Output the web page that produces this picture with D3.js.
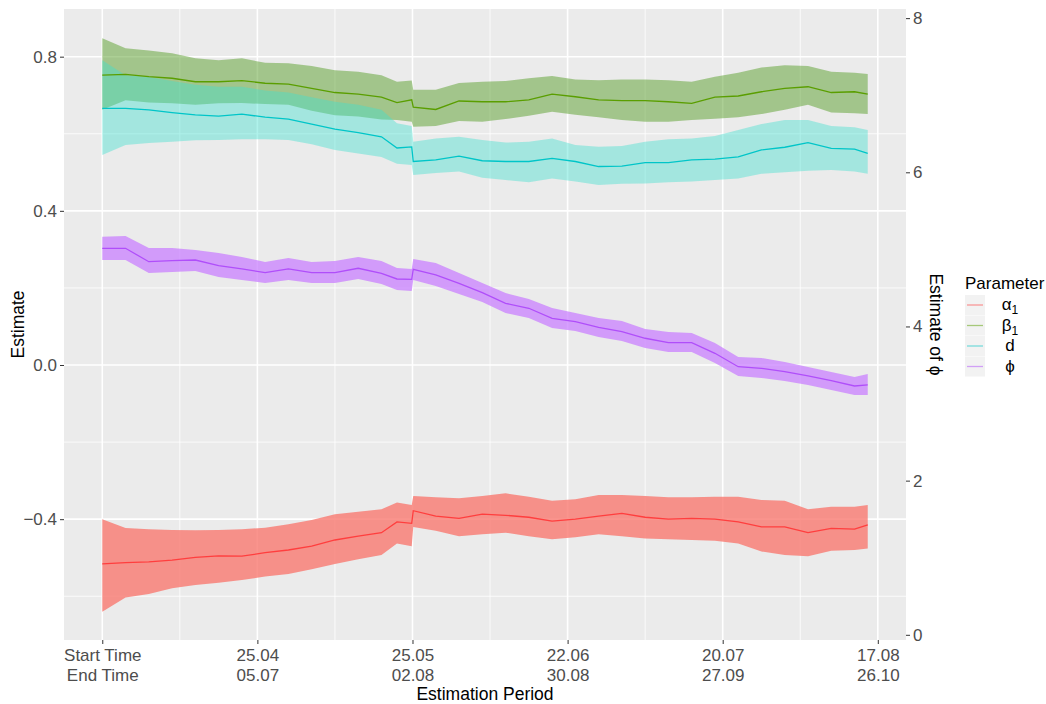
<!DOCTYPE html>
<html>
<head>
<meta charset="utf-8">
<script src="https://cdn.jsdelivr.net/npm/d3@7"></script>
<style>
  body { margin: 0; background: #fff; }
  text { font-family: 'Liberation Sans', Arial, sans-serif; }
</style>
</head>
<body>
<div id="chart-container"></div>
<script>
// estimation window index (trading days from start)
const tIdx = [0, 3, 6, 9, 12, 15, 18, 21, 24, 27, 30, 33, 36, 38, 39.9, 40.1, 43, 46, 49, 52, 55, 58,
  61, 64, 67, 70, 73, 76, 79, 82, 85, 88, 91, 94, 97, 98.7]

// alpha_1 (left axis)
const alphaMid = [-0.516, -0.513, -0.511, -0.506, -0.499, -0.495, -0.496, -0.487, -0.480, -0.470, -0.454, -0.444,
  -0.435, -0.407, -0.411, -0.378, -0.392, -0.398, -0.387, -0.390, -0.395, -0.405, -0.400, -0.392, -0.385, -0.395,
  -0.400, -0.398, -0.400, -0.407, -0.420, -0.420, -0.435, -0.424, -0.426, -0.415]
const alphaHi = [-0.400, -0.423, -0.426, -0.428, -0.429, -0.428, -0.426, -0.422, -0.413, -0.402, -0.387, -0.381,
  -0.374, -0.357, -0.363, -0.340, -0.343, -0.346, -0.340, -0.333, -0.342, -0.352, -0.348, -0.337, -0.337, -0.340,
  -0.343, -0.343, -0.342, -0.342, -0.350, -0.352, -0.374, -0.368, -0.368, -0.363]
const alphaLo = [-0.640, -0.603, -0.594, -0.579, -0.571, -0.565, -0.558, -0.549, -0.542, -0.530, -0.516, -0.504,
  -0.493, -0.463, -0.470, -0.420, -0.430, -0.444, -0.439, -0.435, -0.444, -0.452, -0.447, -0.439, -0.444, -0.450,
  -0.452, -0.454, -0.456, -0.463, -0.484, -0.493, -0.496, -0.482, -0.480, -0.476]

// beta_1 (left axis)
const betaMid = [0.752, 0.754, 0.748, 0.744, 0.735, 0.735, 0.738, 0.731, 0.729, 0.718, 0.707, 0.703, 0.695, 0.681,
  0.688, 0.669, 0.663, 0.685, 0.683, 0.683, 0.688, 0.703, 0.696, 0.688, 0.686, 0.686, 0.683, 0.679, 0.695, 0.698,
  0.709, 0.718, 0.722, 0.707, 0.709, 0.703]
const betaHi = [0.848, 0.822, 0.816, 0.809, 0.796, 0.791, 0.796, 0.784, 0.783, 0.776, 0.765, 0.761, 0.752, 0.735,
  0.738, 0.714, 0.714, 0.732, 0.735, 0.737, 0.744, 0.750, 0.741, 0.739, 0.741, 0.741, 0.739, 0.735, 0.748, 0.758,
  0.772, 0.778, 0.776, 0.761, 0.758, 0.755]
const betaLo = [0.662, 0.687, 0.681, 0.679, 0.675, 0.679, 0.680, 0.677, 0.675, 0.660, 0.648, 0.645, 0.637, 0.636,
  0.631, 0.618, 0.620, 0.633, 0.631, 0.638, 0.647, 0.657, 0.649, 0.643, 0.636, 0.631, 0.631, 0.636, 0.639, 0.643,
  0.651, 0.662, 0.675, 0.655, 0.653, 0.651]

// d (left axis)
const dMid = [0.666, 0.666, 0.662, 0.655, 0.649, 0.646, 0.651, 0.643, 0.638, 0.625, 0.612, 0.603, 0.592, 0.563,
  0.566, 0.528, 0.532, 0.542, 0.530, 0.528, 0.528, 0.536, 0.528, 0.515, 0.516, 0.525, 0.525, 0.532, 0.534, 0.540,
  0.558, 0.565, 0.577, 0.562, 0.560, 0.549]
const dHi = [0.791, 0.752, 0.747, 0.737, 0.727, 0.722, 0.722, 0.712, 0.707, 0.695, 0.683, 0.675, 0.662, 0.627,
  0.620, 0.579, 0.588, 0.592, 0.584, 0.577, 0.579, 0.588, 0.571, 0.566, 0.568, 0.579, 0.586, 0.588, 0.594, 0.610,
  0.625, 0.636, 0.636, 0.620, 0.617, 0.610]
const dLo = [0.545, 0.571, 0.576, 0.579, 0.583, 0.584, 0.586, 0.586, 0.584, 0.573, 0.558, 0.549, 0.540, 0.522,
  0.519, 0.493, 0.498, 0.502, 0.486, 0.480, 0.474, 0.484, 0.476, 0.467, 0.470, 0.471, 0.474, 0.476, 0.480, 0.484,
  0.496, 0.500, 0.504, 0.506, 0.502, 0.496]

// phi (right axis)
const phiMid = [5.014, 5.014, 4.840, 4.853, 4.862, 4.789, 4.746, 4.698, 4.746, 4.698, 4.698, 4.755, 4.690, 4.616,
  4.612, 4.742, 4.668, 4.560, 4.438, 4.301, 4.236, 4.106, 4.062, 3.989, 3.932, 3.847, 3.790, 3.790, 3.652, 3.478,
  3.457, 3.413, 3.358, 3.297, 3.228, 3.241]
const phiHi = [5.165, 5.174, 5.018, 5.018, 4.992, 4.953, 4.901, 4.837, 4.888, 4.837, 4.850, 4.901, 4.850, 4.759,
  4.746, 4.875, 4.824, 4.694, 4.564, 4.434, 4.357, 4.240, 4.175, 4.110, 4.071, 3.967, 3.928, 3.915, 3.786, 3.604,
  3.591, 3.539, 3.474, 3.409, 3.345, 3.384]
const phiLo = [4.862, 4.862, 4.694, 4.707, 4.720, 4.642, 4.603, 4.564, 4.603, 4.564, 4.564, 4.616, 4.551, 4.473,
  4.460, 4.603, 4.525, 4.421, 4.318, 4.175, 4.110, 3.980, 3.941, 3.863, 3.812, 3.721, 3.669, 3.669, 3.526, 3.358,
  3.332, 3.293, 3.241, 3.176, 3.111, 3.111]

// axis ticks
const xTicks = [0, 20, 40, 60, 80, 100]
const xMinor = [10, 30, 50, 70, 90]
const xStart = ['Start Time', '25.04', '25.05', '22.06', '20.07', '17.08']
const xEnd = ['End Time', '05.07', '02.08', '30.08', '27.09', '26.10']
const yTicks = [-0.4, 0, 0.4, 0.8]
const yMinor = [-0.6, -0.2, 0.2, 0.6]
const phiTicks = [0, 2, 4, 6, 8]

// constants
const width = 1046
const height = 704
const panel = {left: 64, right: 906, top: 9, bottom: 640}

const svg = d3.select('#chart-container')
  .append('svg')
  .attr('width', width)
  .attr('height', height)

const xScale = d3.scaleLinear().domain([-4.935, 103.635]).range([panel.left, panel.right])
const yScale = d3.scaleLinear().domain([-0.7135, 0.9237]).range([panel.bottom, panel.top])
// secondary axis: phi = (estimate + 0.7) * 5
const phiScale = d3.scaleLinear().domain([-0.0675, 8.1185]).range([panel.bottom, panel.top])

// panel background + grid
svg.append('rect')
  .attr('x', panel.left).attr('y', panel.top)
  .attr('width', panel.right - panel.left).attr('height', panel.bottom - panel.top)
  .attr('fill', '#EBEBEB')

const grid = svg.append('g')
grid.selectAll('.hminor').data(yMinor).enter().append('line')
  .attr('x1', panel.left).attr('x2', panel.right)
  .attr('y1', d => yScale(d)).attr('y2', d => yScale(d))
  .style('stroke', '#fff').style('stroke-width', 0.8)
grid.selectAll('.vminor').data(xMinor).enter().append('line')
  .attr('y1', panel.top).attr('y2', panel.bottom)
  .attr('x1', d => xScale(d)).attr('x2', d => xScale(d))
  .style('stroke', '#fff').style('stroke-width', 0.8)
grid.selectAll('.hmajor').data(yTicks).enter().append('line')
  .attr('x1', panel.left).attr('x2', panel.right)
  .attr('y1', d => yScale(d)).attr('y2', d => yScale(d))
  .style('stroke', '#fff').style('stroke-width', 1.6)
grid.selectAll('.vmajor').data(xTicks).enter().append('line')
  .attr('y1', panel.top).attr('y2', panel.bottom)
  .attr('x1', d => xScale(d)).attr('x2', d => xScale(d))
  .style('stroke', '#fff').style('stroke-width', 1.6)

// series
const series = [
  {name: 'α', sub: '1', mid: alphaMid, lo: alphaLo, hi: alphaHi, y: yScale,
    fill: '#F8766D', op: 0.78, line: '#FF3E3E'},
  {name: 'β', sub: '1', mid: betaMid, lo: betaLo, hi: betaHi, y: yScale,
    fill: '#5AA02C', op: 0.5, line: '#5A9E00'},
  {name: 'd', sub: '', mid: dMid, lo: dLo, hi: dHi, y: yScale,
    fill: '#40E0D0', op: 0.42, line: '#00C5C8'},
  {name: 'ϕ', sub: '', mid: phiMid, lo: phiLo, hi: phiHi, y: phiScale,
    fill: '#C77CFF', op: 0.72, line: '#B04EFA'}
]

const plot = svg.append('g')
series.forEach(s => {
  const area = d3.area()
    .x((d, i) => xScale(tIdx[i]))
    .y0((d, i) => s.y(s.lo[i]))
    .y1((d, i) => s.y(s.hi[i]))
  plot.append('path')
    .datum(s.mid)
    .attr('d', area)
    .attr('fill', s.fill)
    .attr('fill-opacity', s.op)
})
series.forEach(s => {
  const line = d3.line()
    .x((d, i) => xScale(tIdx[i]))
    .y(d => s.y(d))
  plot.append('path')
    .datum(s.mid)
    .attr('d', line)
    .attr('fill', 'none')
    .style('stroke', s.line)
    .style('stroke-width', 1.3)
})

// axes
const styleAxis = g => {
  g.select('.domain').remove()
  g.selectAll('.tick line').style('stroke', '#333').style('stroke-width', 1)
  g.selectAll('.tick text').style('fill', '#4D4D4D').style('font-size', '17px')
}

svg.append('g')
  .attr('transform', `translate(${panel.left}, 0)`)
  .call(d3.axisLeft(yScale).tickValues(yTicks).tickSize(4).tickPadding(3)
    .tickFormat(d3.format('.1f')))
  .call(styleAxis)

svg.append('g')
  .attr('transform', `translate(${panel.right}, 0)`)
  .call(d3.axisRight(phiScale).tickValues(phiTicks).tickSize(4).tickPadding(3))
  .call(styleAxis)

const xAxisG = svg.append('g')
  .attr('transform', `translate(0, ${panel.bottom})`)
  .call(d3.axisBottom(xScale).tickValues(xTicks).tickSize(4).tickFormat(''))
  .call(styleAxis)
xAxisG.selectAll('.tick').each(function (d, i) {
  const t = d3.select(this).select('text')
  t.attr('y', 0).attr('dy', null)
  t.append('tspan').attr('x', 0).attr('y', 21).text(xStart[i])
  t.append('tspan').attr('x', 0).attr('y', 41).text(xEnd[i])
})

// axis titles
svg.append('text')
  .attr('x', (panel.left + panel.right) / 2).attr('y', 700)
  .attr('text-anchor', 'middle').attr('font-size', '17.5px').attr('fill', '#000')
  .text('Estimation Period')
svg.append('text')
  .attr('transform', `translate(24, ${(panel.top + panel.bottom) / 2}) rotate(-90)`)
  .attr('text-anchor', 'middle').attr('font-size', '17.5px').attr('fill', '#000')
  .text('Estimate')
svg.append('text')
  .attr('transform', `translate(930, ${(panel.top + panel.bottom) / 2}) rotate(90)`)
  .attr('text-anchor', 'middle').attr('font-size', '17.5px').attr('fill', '#000')
  .text('Estimate of ϕ')

// legend
const legend = svg.append('g').attr('transform', 'translate(965, 0)')
legend.append('text')
  .attr('x', 0).attr('y', 289)
  .attr('font-size', '17px').attr('fill', '#000')
  .text('Parameter')
series.forEach((s, i) => {
  const cy = 305 + i * 20.5
  legend.append('rect')
    .attr('x', 0).attr('y', cy - 10).attr('width', 20).attr('height', 20)
    .attr('fill', '#F2F2F2')
  legend.append('line')
    .attr('x1', 2).attr('x2', 18).attr('y1', cy).attr('y2', cy)
    .style('stroke', s.line).style('stroke-opacity', 0.5).style('stroke-width', 1.3)
  const label = legend.append('text')
    .attr('x', 45).attr('y', cy + 5)
    .attr('text-anchor', 'middle').attr('font-size', '17px').attr('fill', '#000')
  label.append('tspan').text(s.name)
  if (s.sub) label.append('tspan').attr('font-size', '12px').attr('dy', 4).text(s.sub)
})
</script>
</body>
</html>
